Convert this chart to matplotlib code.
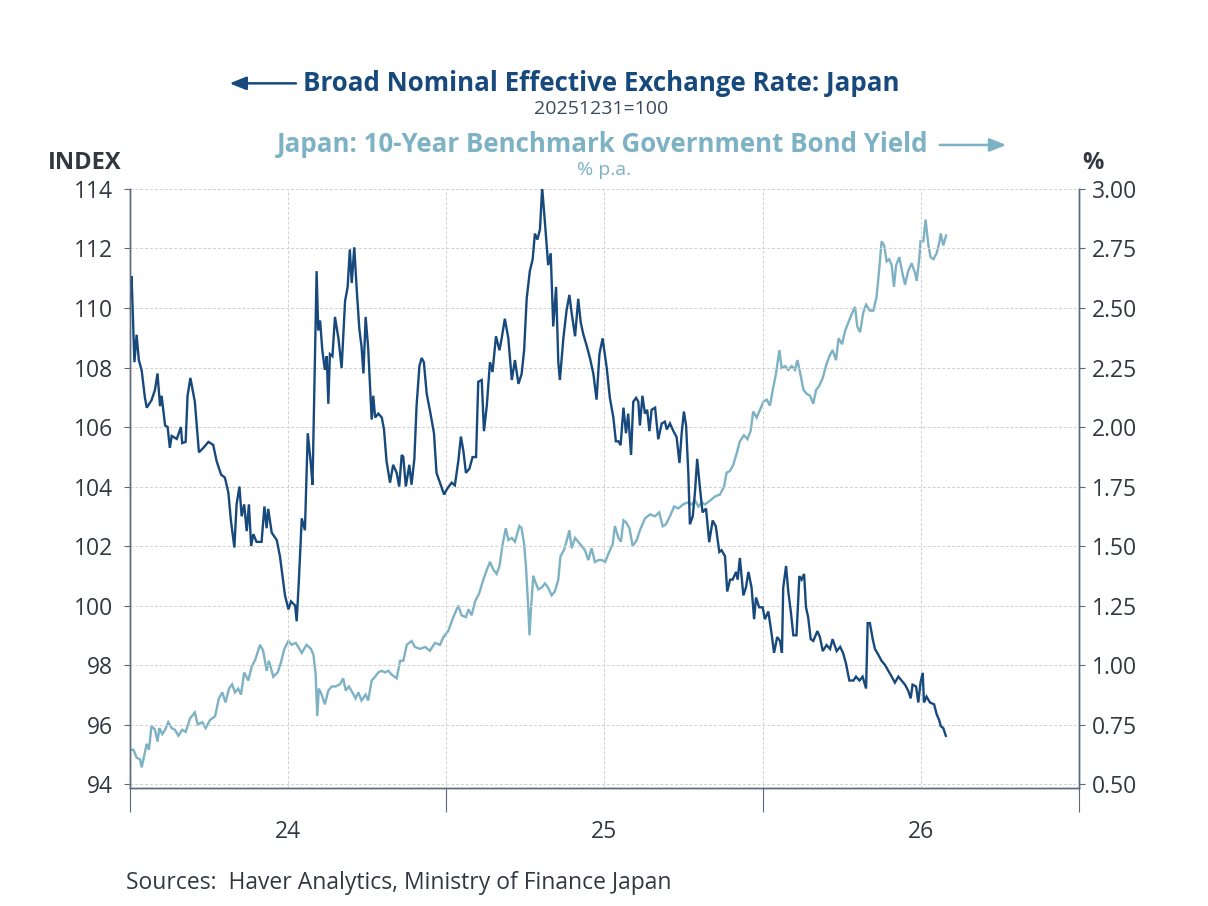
import matplotlib
matplotlib.use("Agg")
import matplotlib.pyplot as plt
import numpy as np

# GLOBALS
DARK = "#17497C"
LIGHT = "#7DB1C4"
TEXT = "#333840"
AXIS = "#5A6A7E"
GRID = "#D0D0D0"
FONT = ["Open Sans", "DejaVu Sans"]

# Broad nominal effective exchange rate, Japan (20251231=100), decimal years
neer_t = [
    2024.000, 2024.005, 2024.014, 2024.021, 2024.028, 2024.037, 2024.047, 2024.053,
    2024.068, 2024.079, 2024.087, 2024.095, 2024.100, 2024.111, 2024.119, 2024.126,
    2024.132, 2024.148, 2024.161, 2024.165, 2024.176, 2024.182, 2024.191, 2024.205,
    2024.211, 2024.218, 2024.232, 2024.248, 2024.263, 2024.274, 2024.288, 2024.300,
    2024.311, 2024.319, 2024.330, 2024.337, 2024.346, 2024.353, 2024.361, 2024.369,
    2024.376, 2024.383, 2024.390, 2024.400, 2024.416, 2024.425, 2024.432, 2024.437,
    2024.448, 2024.464, 2024.474, 2024.482, 2024.490, 2024.501, 2024.509, 2024.522,
    2024.527, 2024.534, 2024.543, 2024.553, 2024.562, 2024.572, 2024.577, 2024.583,
    2024.590, 2024.595, 2024.601, 2024.608, 2024.616, 2024.622, 2024.627, 2024.632,
    2024.640, 2024.648, 2024.659, 2024.669, 2024.680, 2024.688, 2024.695, 2024.701,
    2024.709, 2024.717, 2024.725, 2024.732, 2024.738, 2024.745, 2024.753, 2024.764,
    2024.769, 2024.775, 2024.785, 2024.796, 2024.803, 2024.811, 2024.822, 2024.832,
    2024.843, 2024.851, 2024.859, 2024.864, 2024.872, 2024.883, 2024.890, 2024.899,
    2024.906, 2024.915, 2024.922, 2024.929, 2024.938, 2024.950, 2024.961, 2024.969,
    2024.980, 2024.993, 2025.003, 2025.017, 2025.027, 2025.038, 2025.046, 2025.054,
    2025.062, 2025.073, 2025.083, 2025.094, 2025.101, 2025.112, 2025.119, 2025.128,
    2025.138, 2025.146, 2025.157, 2025.168, 2025.175, 2025.185, 2025.196, 2025.207,
    2025.217, 2025.228, 2025.238, 2025.246, 2025.254, 2025.264, 2025.273, 2025.280,
    2025.288, 2025.296, 2025.303, 2025.312, 2025.322, 2025.330, 2025.338, 2025.347,
    2025.354, 2025.359, 2025.370, 2025.380, 2025.389, 2025.396, 2025.407, 2025.417,
    2025.425, 2025.433, 2025.444, 2025.454, 2025.465, 2025.475, 2025.484, 2025.494,
    2025.507, 2025.517, 2025.528, 2025.536, 2025.544, 2025.551, 2025.560, 2025.568,
    2025.575, 2025.584, 2025.591, 2025.600, 2025.607, 2025.612, 2025.620, 2025.628,
    2025.635, 2025.642, 2025.649, 2025.660, 2025.670, 2025.681, 2025.691, 2025.697,
    2025.707, 2025.718, 2025.728, 2025.737, 2025.744, 2025.751, 2025.758, 2025.765,
    2025.770, 2025.779, 2025.786, 2025.793, 2025.802, 2025.810, 2025.821, 2025.831,
    2025.842, 2025.852, 2025.863, 2025.870, 2025.881, 2025.888, 2025.897, 2025.905,
    2025.916, 2025.921, 2025.928, 2025.939, 2025.947, 2025.955, 2025.965, 2025.973,
    2025.979, 2025.989, 2026.000, 2026.007, 2026.018, 2026.028, 2026.036, 2026.046,
    2026.055, 2026.061, 2026.065, 2026.074, 2026.081, 2026.089, 2026.097, 2026.107,
    2026.116, 2026.123, 2026.131, 2026.137, 2026.144, 2026.152, 2026.160, 2026.173,
    2026.181, 2026.190, 2026.202, 2026.213, 2026.221, 2026.234, 2026.245, 2026.254,
    2026.263, 2026.274, 2026.287, 2026.295, 2026.306, 2026.316, 2026.327, 2026.332,
    2026.339, 2026.348, 2026.355, 2026.366, 2026.376, 2026.387, 2026.397, 2026.408,
    2026.418, 2026.429, 2026.439, 2026.450, 2026.460, 2026.468, 2026.474, 2026.485,
    2026.492, 2026.499, 2026.506, 2026.510, 2026.518, 2026.529, 2026.542, 2026.550,
    2026.558, 2026.563, 2026.571, 2026.579,
]
neer_v = [
    110.38, 111.07, 108.18, 109.10, 108.25, 107.90, 107.00, 106.65,
    106.90, 107.25, 107.80, 106.70, 107.05, 106.05, 106.00, 105.30,
    105.70, 105.60, 106.00, 105.46, 105.50, 107.05, 107.65, 106.85,
    106.05, 105.15, 105.30, 105.50, 105.40, 104.85, 104.40, 104.30,
    103.80, 102.86, 101.95, 103.40, 104.00, 103.00, 103.40, 102.50,
    103.40, 102.00, 102.40, 102.14, 102.14, 103.33, 102.60, 103.25,
    102.45, 102.20, 101.66, 101.00, 100.34, 99.87, 100.14, 100.00,
    99.47, 100.87, 102.93, 102.53, 105.79, 104.73, 104.06, 107.38,
    111.24, 109.25, 109.58, 108.58, 107.92, 108.38, 106.78, 108.45,
    108.38, 109.70, 108.98, 107.98, 110.24, 110.70, 111.97, 110.84,
    112.04, 110.58, 109.30, 108.70, 107.80, 109.70, 108.65, 106.25,
    107.05, 106.32, 106.45, 106.32, 105.92, 104.86, 104.13, 104.73,
    104.46, 104.00, 105.06, 105.00, 104.00, 104.73, 104.06, 104.93,
    106.72, 108.05, 108.32, 108.18, 107.12, 106.45, 105.79, 104.46,
    104.13, 103.73, 103.93, 104.13, 104.04, 104.86, 105.68, 105.19,
    104.46, 104.60, 104.99, 104.99, 107.52, 107.58, 105.86, 106.72,
    108.18, 107.85, 109.05, 108.58, 108.98, 109.64, 108.98, 107.58,
    108.25, 107.45, 107.78, 108.58, 110.31, 111.24, 111.64, 112.50,
    112.30, 112.64, 114.04, 112.84, 111.44, 111.84, 109.38, 110.71,
    108.18, 107.58, 108.98, 109.91, 110.44, 109.85, 109.05, 110.31,
    109.51, 109.12, 108.72, 108.32, 107.78, 106.92, 108.45, 108.98,
    108.00, 106.98, 106.32, 105.52, 105.52, 105.39, 106.65, 105.79,
    106.45, 105.06, 106.85, 106.98, 106.85, 106.05, 107.05, 106.45,
    106.58, 105.86, 106.58, 106.65, 105.59, 106.12, 106.18, 105.92,
    106.12, 105.86, 105.66, 104.79, 105.79, 106.52, 106.05, 104.46,
    102.73, 103.00, 103.80, 104.93, 103.93, 103.13, 103.26, 102.13,
    102.86, 102.66, 101.80, 101.86, 101.66, 100.47, 100.87, 100.87,
    101.13, 100.87, 101.60, 100.34, 100.60, 101.13, 100.60, 99.54,
    100.27, 99.94, 99.94, 99.54, 99.80, 99.07, 98.41, 98.94,
    98.81, 98.41, 100.60, 101.33, 100.47, 99.80, 99.00, 99.00,
    100.99, 100.87, 101.06, 99.94, 99.60, 98.87, 98.81, 99.14,
    98.94, 98.47, 98.67, 98.54, 98.87, 98.47, 98.61, 98.41,
    98.07, 97.48, 97.48, 97.61, 97.48, 97.61, 97.21, 99.41,
    99.41, 98.87, 98.54, 98.34, 98.14, 98.00, 97.81, 97.61,
    97.41, 97.61, 97.48, 97.34, 97.14, 96.88, 97.34, 97.28,
    96.74, 97.41, 97.74, 96.74, 96.94, 96.74, 96.68, 96.35,
    96.15, 95.95, 95.88, 95.62,
]

# Japan 10-year benchmark government bond yield (% p.a.), decimal years
jgb_t = [
    2024.000, 2024.011, 2024.021, 2024.032, 2024.037, 2024.045, 2024.053, 2024.060,
    2024.068, 2024.079, 2024.087, 2024.093, 2024.102, 2024.111, 2024.121, 2024.132,
    2024.142, 2024.153, 2024.165, 2024.176, 2024.190, 2024.205, 2024.214, 2024.229,
    2024.239, 2024.253, 2024.269, 2024.281, 2024.292, 2024.302, 2024.313, 2024.323,
    2024.332, 2024.342, 2024.351, 2024.361, 2024.374, 2024.385, 2024.397, 2024.411,
    2024.421, 2024.432, 2024.439, 2024.453, 2024.467, 2024.477, 2024.488, 2024.501,
    2024.511, 2024.524, 2024.532, 2024.543, 2024.558, 2024.572, 2024.580, 2024.587,
    2024.592, 2024.597, 2024.606, 2024.616, 2024.627, 2024.638, 2024.650, 2024.664,
    2024.674, 2024.682, 2024.692, 2024.703, 2024.713, 2024.722, 2024.732, 2024.745,
    2024.753, 2024.764, 2024.775, 2024.785, 2024.796, 2024.806, 2024.817, 2024.827,
    2024.843, 2024.854, 2024.864, 2024.875, 2024.890, 2024.901, 2024.917, 2024.933,
    2024.948, 2024.964, 2024.980, 2024.991, 2025.006, 2025.022, 2025.038, 2025.048,
    2025.062, 2025.070, 2025.080, 2025.091, 2025.104, 2025.117, 2025.128, 2025.138,
    2025.149, 2025.159, 2025.168, 2025.178, 2025.188, 2025.196, 2025.207, 2025.217,
    2025.231, 2025.238, 2025.246, 2025.252, 2025.259, 2025.263, 2025.268, 2025.275,
    2025.283, 2025.291, 2025.301, 2025.312, 2025.322, 2025.333, 2025.343, 2025.354,
    2025.361, 2025.372, 2025.383, 2025.389, 2025.396, 2025.407, 2025.417, 2025.428,
    2025.438, 2025.449, 2025.459, 2025.470, 2025.481, 2025.491, 2025.502, 2025.512,
    2025.526, 2025.533, 2025.544, 2025.552, 2025.560, 2025.568, 2025.579, 2025.589,
    2025.602, 2025.612, 2025.628, 2025.644, 2025.660, 2025.673, 2025.684, 2025.694,
    2025.707, 2025.720, 2025.733, 2025.749, 2025.762, 2025.776, 2025.786, 2025.797,
    2025.807, 2025.818, 2025.834, 2025.849, 2025.865, 2025.878, 2025.886, 2025.897,
    2025.907, 2025.918, 2025.928, 2025.941, 2025.952, 2025.962, 2025.970, 2025.981,
    2025.992, 2026.002, 2026.013, 2026.023, 2026.032, 2026.042, 2026.053, 2026.060,
    2026.071, 2026.081, 2026.092, 2026.102, 2026.110, 2026.118, 2026.129, 2026.139,
    2026.150, 2026.160, 2026.169, 2026.179, 2026.190, 2026.200, 2026.211, 2026.221,
    2026.232, 2026.240, 2026.251, 2026.261, 2026.271, 2026.281, 2026.292, 2026.299,
    2026.308, 2026.318, 2026.327, 2026.339, 2026.350, 2026.360, 2026.368, 2026.376,
    2026.384, 2026.392, 2026.400, 2026.408, 2026.415, 2026.422, 2026.432, 2026.439,
    2026.450, 2026.460, 2026.471, 2026.482, 2026.487, 2026.495, 2026.499, 2026.508,
    2026.515, 2026.524, 2026.531, 2026.540, 2026.550, 2026.558, 2026.563, 2026.571,
    2026.580,
]
jgb_v = [
    0.644, 0.644, 0.611, 0.603, 0.570, 0.619, 0.669, 0.644,
    0.744, 0.728, 0.678, 0.735, 0.710, 0.728, 0.760, 0.735,
    0.728, 0.703, 0.728, 0.719, 0.776, 0.801, 0.751, 0.760,
    0.735, 0.769, 0.785, 0.860, 0.885, 0.843, 0.901, 0.919,
    0.885, 0.901, 0.876, 0.969, 0.935, 0.994, 1.026, 1.085,
    1.060, 0.976, 1.018, 0.951, 0.969, 1.010, 1.068, 1.101,
    1.085, 1.093, 1.076, 1.051, 1.085, 1.068, 1.043, 0.960,
    0.785, 0.901, 0.876, 0.835, 0.893, 0.910, 0.910, 0.919,
    0.944, 0.893, 0.910, 0.885, 0.860, 0.885, 0.851, 0.876,
    0.851, 0.935, 0.951, 0.969, 0.976, 0.969, 0.976, 0.960,
    0.944, 1.018, 1.018, 1.085, 1.101, 1.076, 1.068, 1.076,
    1.060, 1.093, 1.085, 1.118, 1.143, 1.201, 1.250, 1.209,
    1.201, 1.234, 1.209, 1.268, 1.301, 1.359, 1.400, 1.433,
    1.400, 1.383, 1.416, 1.508, 1.575, 1.525, 1.534, 1.518,
    1.584, 1.575, 1.508, 1.409, 1.243, 1.125, 1.243, 1.375,
    1.343, 1.318, 1.325, 1.343, 1.325, 1.293, 1.309, 1.359,
    1.458, 1.483, 1.534, 1.566, 1.491, 1.534, 1.518, 1.500,
    1.483, 1.441, 1.491, 1.433, 1.441, 1.441, 1.433, 1.466,
    1.509, 1.584, 1.534, 1.518, 1.608, 1.600, 1.575, 1.500,
    1.525, 1.566, 1.616, 1.633, 1.625, 1.641, 1.583, 1.591,
    1.625, 1.666, 1.658, 1.675, 1.683, 1.675, 1.691, 1.666,
    1.683, 1.675, 1.691, 1.708, 1.716, 1.750, 1.808, 1.816,
    1.841, 1.890, 1.940, 1.965, 1.949, 1.983, 2.065, 2.040,
    2.073, 2.106, 2.115, 2.090, 2.156, 2.223, 2.323, 2.248,
    2.256, 2.240, 2.256, 2.240, 2.281, 2.231, 2.156, 2.140,
    2.131, 2.098, 2.156, 2.173, 2.206, 2.256, 2.298, 2.323,
    2.281, 2.373, 2.348, 2.406, 2.439, 2.473, 2.505, 2.423,
    2.398, 2.481, 2.514, 2.489, 2.489, 2.546, 2.655, 2.780,
    2.763, 2.696, 2.705, 2.680, 2.589, 2.680, 2.714, 2.664,
    2.598, 2.655, 2.688, 2.646, 2.614, 2.705, 2.780, 2.780,
    2.871, 2.763, 2.713, 2.705, 2.730, 2.771, 2.813, 2.763,
    2.805,
]

year_edges = [2024, 2025, 2026, 2027]
year_mids = [2024.5, 2025.5, 2026.5]
year_labels = ["24", "25", "26"]
left_ticks = list(range(94, 115, 2))
right_ticks = [0.50, 0.75, 1.00, 1.25, 1.50, 1.75, 2.00, 2.25, 2.50, 2.75, 3.00]


def add_arrow(ax, start, end, colour):
    """Legend arrow placed in figure coordinates"""
    ax.annotate(
        "", xy=end, xytext=start, xycoords="figure fraction",
        textcoords="figure fraction", annotation_clip=False,
        arrowprops=dict(arrowstyle="-|>,head_length=1.0,head_width=0.4",
                        color=colour, lw=1.8, shrinkA=0, shrinkB=0)
    )


def main():
    plt.rcParams["font.family"] = FONT
    fig = plt.figure(figsize=(12.08, 9.06), dpi=100)
    ax = fig.add_axes([0.1076, 0.130, 0.7856, 0.6614])
    ax2 = ax.twinx()

    # Dark line drawn above light line
    ax.set_zorder(ax2.get_zorder() + 1)
    ax.patch.set_visible(False)

    ax2.plot(jgb_t, jgb_v, color=LIGHT, lw=1.7, solid_joinstyle="miter")
    ax.plot(neer_t, neer_v, color=DARK, lw=1.7, solid_joinstyle="miter")

    ylo = 94 - 0.14
    ax.set_ylim(ylo, 114)
    ax2.set_ylim(0.5 + (ylo - 94) / 8, 3.0)
    ax.set_xlim(2024, 2027)

    ax.set_yticks(left_ticks)
    ax.set_yticklabels([str(t) for t in left_ticks])
    ax2.set_yticks(right_ticks)
    ax2.set_yticklabels([f"{t:.2f}" for t in right_ticks])

    ax.set_xticks(year_edges)
    ax.set_xticklabels([])
    ax.set_xticks(year_mids, minor=True)
    ax.set_xticklabels(year_labels, minor=True)

    for a in (ax, ax2):
        a.spines["top"].set_visible(False)
        for side in ("left", "right", "bottom"):
            a.spines[side].set_color(AXIS)
            a.spines[side].set_linewidth(1.0)

    ax.tick_params(axis="x", which="major", length=17, width=0.8,
                   color=AXIS, direction="out")
    ax.tick_params(axis="x", which="minor", length=0, pad=23,
                   labelsize=16.5, labelcolor=TEXT)
    ax.tick_params(axis="y", length=4, width=0.8, color=AXIS, pad=8,
                   labelsize=16.5, labelcolor=TEXT)
    ax2.tick_params(axis="y", length=4, width=0.8, color=AXIS, pad=5,
                    labelsize=16.5, labelcolor=TEXT)

    ax.grid(axis="x", which="both", color=GRID, lw=0.7, ls=(0, (3, 2)))
    ax.grid(axis="y", color=GRID, lw=0.7, ls=(0, (3, 2)))
    ax.set_axisbelow(True)

    # Titles and units
    fig.text(0.498, 0.908, "Broad Nominal Effective Exchange Rate: Japan",
             ha="center", va="center", fontsize=18.6, fontweight="bold",
             color=DARK)
    fig.text(0.498, 0.880, "20251231=100", ha="center", va="center",
             fontsize=14, color="#3A4A5E")
    fig.text(0.499, 0.840, "Japan: 10-Year Benchmark Government Bond Yield",
             ha="center", va="center", fontsize=18.6, fontweight="bold",
             color=LIGHT)
    fig.text(0.500, 0.812, "% p.a.", ha="center", va="center",
             fontsize=14, color=LIGHT)

    add_arrow(ax, (0.245, 0.908), (0.190, 0.908), DARK)
    add_arrow(ax, (0.778, 0.840), (0.833, 0.840), LIGHT)

    fig.text(0.040, 0.820, "INDEX", ha="left", va="center", fontsize=17,
             fontweight="bold", color=TEXT)
    fig.text(0.905, 0.820, "%", ha="center", va="center", fontsize=17,
             fontweight="bold", color=TEXT)

    fig.text(0.104, 0.025, "Sources:  Haver Analytics, Ministry of Finance Japan",
             ha="left", va="center", fontsize=16.5, color=TEXT)

    fig.savefig("out.png", dpi=100, facecolor="white")


if __name__ == "__main__":
    main()
